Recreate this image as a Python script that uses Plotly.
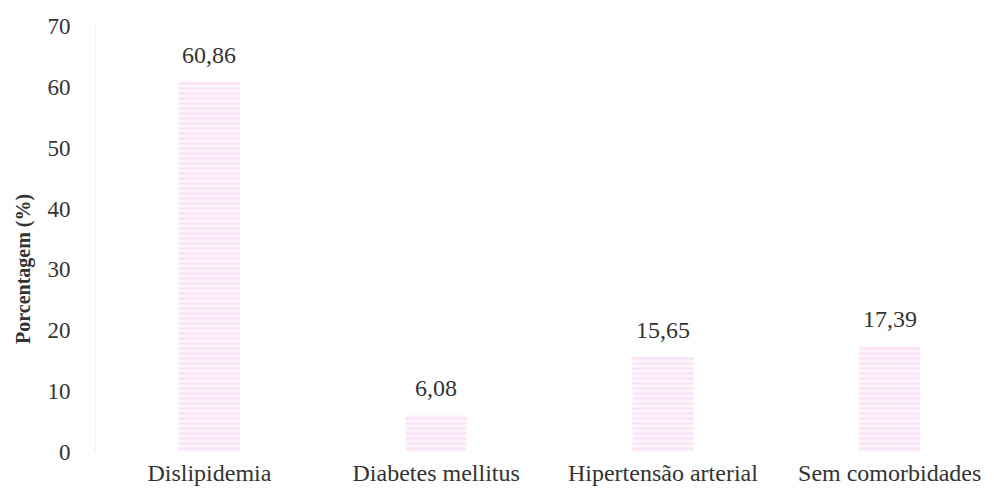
import plotly.graph_objects as go

# Comorbidity shares (%)
categories = ["Dislipidemia", "Diabetes mellitus", "Hipertensão arterial", "Sem comorbidades"]
values = [60.86, 6.08, 15.65, 17.39]
y_ticks = [0, 10, 20, 30, 40, 50, 60, 70]

serif = "Liberation Serif"
ink = "#333333"

fig = go.Figure()
fig.add_trace(go.Bar(
    x=categories,
    y=values,
    width=0.27,
    marker=dict(
        color="#fdeefa",
        line=dict(width=0),
        pattern=dict(shape="-", fgcolor="#f6c8ec", bgcolor="#fef4fc", size=5, solidity=0.35),
    ),
    hoverinfo="skip",
))

# Value labels above each bar
for c, v in zip(categories, values):
    fig.add_annotation(
        x=c, y=v, text=f"{v:.2f}".replace(".", ","),
        showarrow=False, yanchor="bottom", yshift=12,
        font=dict(family=serif, size=24, color=ink),
    )

# Y axis title
fig.add_annotation(
    xref="paper", yref="paper", x=-0.08, y=0.43,
    text="<b>Porcentagem (%)</b>", textangle=-90, showarrow=False,
    xanchor="center", yanchor="middle",
    font=dict(family=serif, size=20, color=ink),
)

fig.update_layout(
    width=994, height=496,
    margin=dict(l=96, r=0, t=26, b=44),
    paper_bgcolor="white", plot_bgcolor="white",
    showlegend=False,
    bargap=0.73,
    font=dict(family=serif, size=24, color=ink),
    xaxis=dict(
        range=[-0.5, 3.46], showgrid=False, zeroline=False, showline=False,
        ticks="", ticklabelstandoff=4,
        tickfont=dict(family=serif, size=24, color=ink),
    ),
    yaxis=dict(
        range=[0, 70], tickvals=y_ticks, showgrid=False, zeroline=False,
        showline=True, linecolor="#f2f2f2", linewidth=1,
        ticks="", ticklabelstandoff=20,
        tickfont=dict(family=serif, size=23, color=ink),
    ),
)

fig.write_html("out.html")
